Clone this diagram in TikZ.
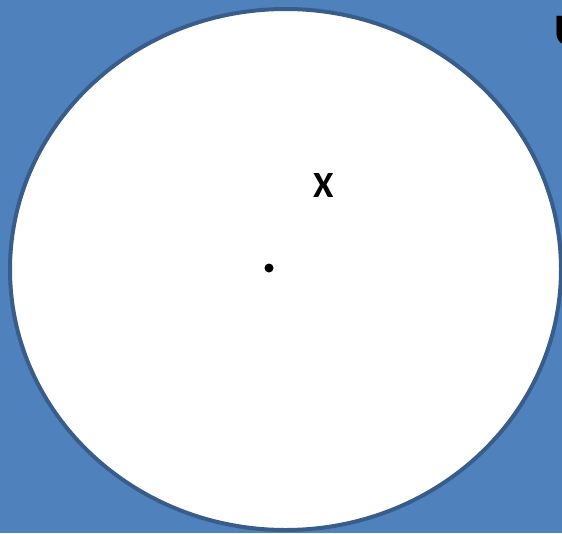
\documentclass[tikz,border=0pt]{standalone}
\usepackage{fontspec}
\setmainfont{Carlito}
\usetikzlibrary{positioning,shapes.geometric}

\definecolor{univBlue}{HTML}{4F81BD}
\definecolor{setEdge}{HTML}{385D8A}

\begin{document}
\begin{tikzpicture}[
  x=1pt, y=-1pt,
  setShape/.style={draw=setEdge, line width=4pt, fill=white, ellipse,
                   minimum width=551pt, minimum height=521pt, inner sep=0pt},
  ptDot/.style={circle, fill=black, minimum size=9pt, inner sep=0pt},
  lbl/.style={inner sep=0pt, anchor=base west, font=\bfseries},
]
\useasboundingbox (0,0) rectangle (562,533);
\clip (0,0) rectangle (562,533);
\fill[univBlue] (0,0) rectangle (562,533);

\node[setShape] (setA) at (285.5,269.5) {};
\node[ptDot]    (pt)   at (269,268) {};
\node[lbl, font=\bfseries\fontsize{37}{37}\selectfont] (xlbl) at (313,197) {X};
\node[lbl, font=\bfseries\fontsize{45}{45}\selectfont] (ulbl) at (554,45) {U};
\end{tikzpicture}
\end{document}
